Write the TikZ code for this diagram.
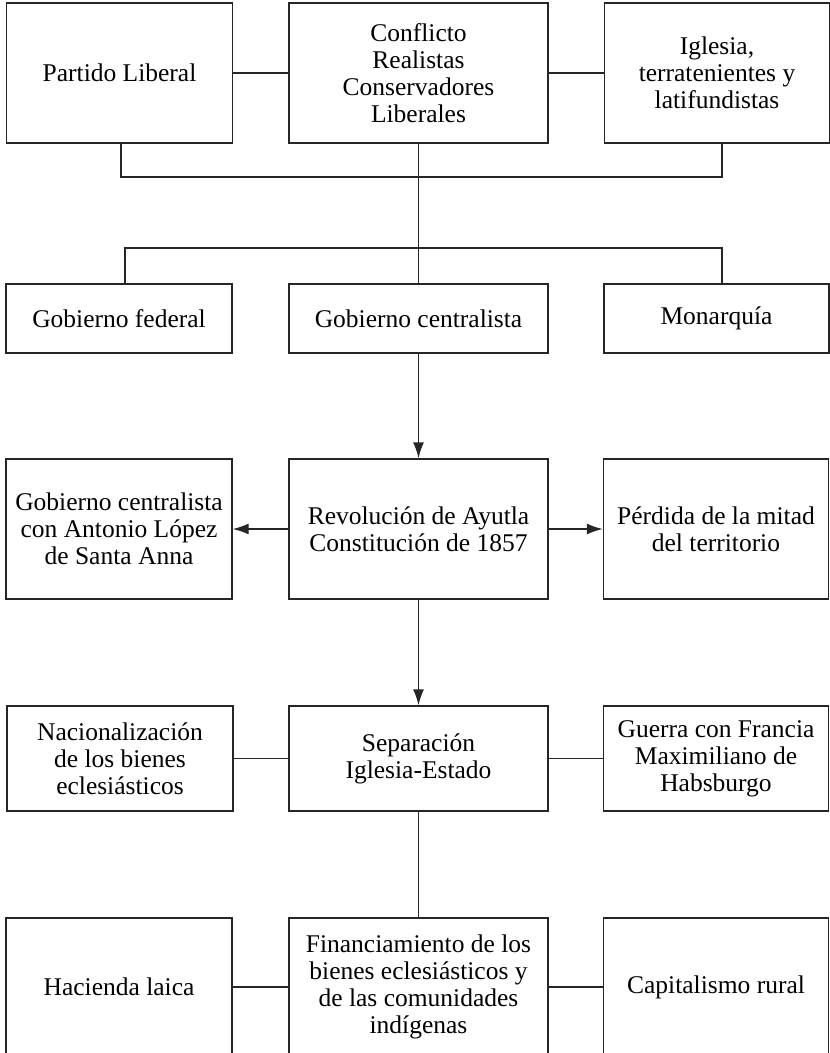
\documentclass[tikz,border=0pt]{standalone}
\usepackage{fontspec}
\setmainfont{Liberation Serif}
\usetikzlibrary{arrows.meta}
\begin{document}
\begin{tikzpicture}[x=1pt,y=-1pt,
  box/.style={draw=black!85, line width=1.4pt, inner sep=0pt, align=center,
    font=\fontsize{25.5}{27}\selectfont},
  wl/.style={box, minimum width=226pt},
  wm/.style={box, minimum width=259pt},
  wr/.style={box, minimum width=225pt},
  link/.style={draw=black!85, line width=1.4pt},
  arr/.style={link, -{Latex[length=16pt,width=11pt]}}]
\clip (0,0) rectangle (830,1053);
\fill[white] (0,0) rectangle (830,1053);

% first row
\node[wl, minimum height=140pt] (l1) at (119.5,73) {Partido Liberal};
\node[wm, minimum height=140pt] (m1) at (418.5,73) {Conflicto\\Realistas\\Conservadores\\Liberales};
\node[wr, minimum height=140pt] (r1) at (717,73) {Iglesia,\\terratenientes y\\latifundistas};

% second row
\node[wl, minimum height=69pt] (l2) at (119,318.5) {Gobierno federal};
\node[wm, minimum height=69pt] (m2) at (418.5,318.5) {Gobierno centralista};
\node[wr, minimum height=69pt] (r2) at (716.5,318.5) {Monarquía};

% third row
\node[wl, minimum height=140pt] (l3) at (119,529) {Gobierno centralista\\con Antonio López\\de Santa Anna};
\node[wm, minimum height=140pt] (m3) at (418.5,529) {Revolución de Ayutla\\Constitución de 1857};
\node[wr, minimum height=140pt] (r3) at (716,529) {Pérdida de la mitad\\del territorio};

% fourth row
\node[wl, minimum height=105pt] (l4) at (120,758.5) {Nacionalización\\de los bienes\\eclesiásticos};
\node[wm, minimum height=105pt] (m4) at (418.5,758.5) {Separación\\Iglesia-Estado};
\node[wr, minimum height=105pt] (r4) at (716,758.5) {Guerra con Francia\\Maximiliano de\\Habsburgo};

% fifth row
\node[wl, minimum height=138pt] (l5) at (119,987) {Hacienda laica};
\node[wm, minimum height=138pt] (m5) at (418.5,987) {Financiamiento de los\\bienes eclesiásticos y\\de las comunidades\\indígenas};
\node[wr, minimum height=138pt] (r5) at (716,987) {Capitalismo rural};

% bus lines between the first two rows
\coordinate (bus1) at (418.5,177);
\coordinate (bus2) at (418.5,248);
\draw[link] ([xshift=1.5pt]l1.south) -- ([xshift=1.5pt]l1.south |- bus1)
  -- ([xshift=5pt]r1.south |- bus1) -- ([xshift=5pt]r1.south);
\draw[link] (m1.south) -- (m2.north);
\draw[link] ([xshift=6pt]l2.north) -- ([xshift=6pt]l2.north |- bus2)
  -- ([xshift=5.5pt]r2.north |- bus2) -- ([xshift=5.5pt]r2.north);

% side links
\draw[link] (l1) -- (m1);
\draw[link] (m1) -- (r1);
\draw[link] (l4) -- (m4);
\draw[link] (m4) -- (r4);
\draw[link] (l5) -- (m5);
\draw[link] (m5) -- (r5);

% arrows
\draw[arr] (m2) -- (m3);
\draw[arr] (m3) -- (l3);
\draw[arr] (m3) -- (r3);
\draw[arr] (m3) -- (m4);
\draw[link] (m4) -- (m5);
\end{tikzpicture}
\end{document}
